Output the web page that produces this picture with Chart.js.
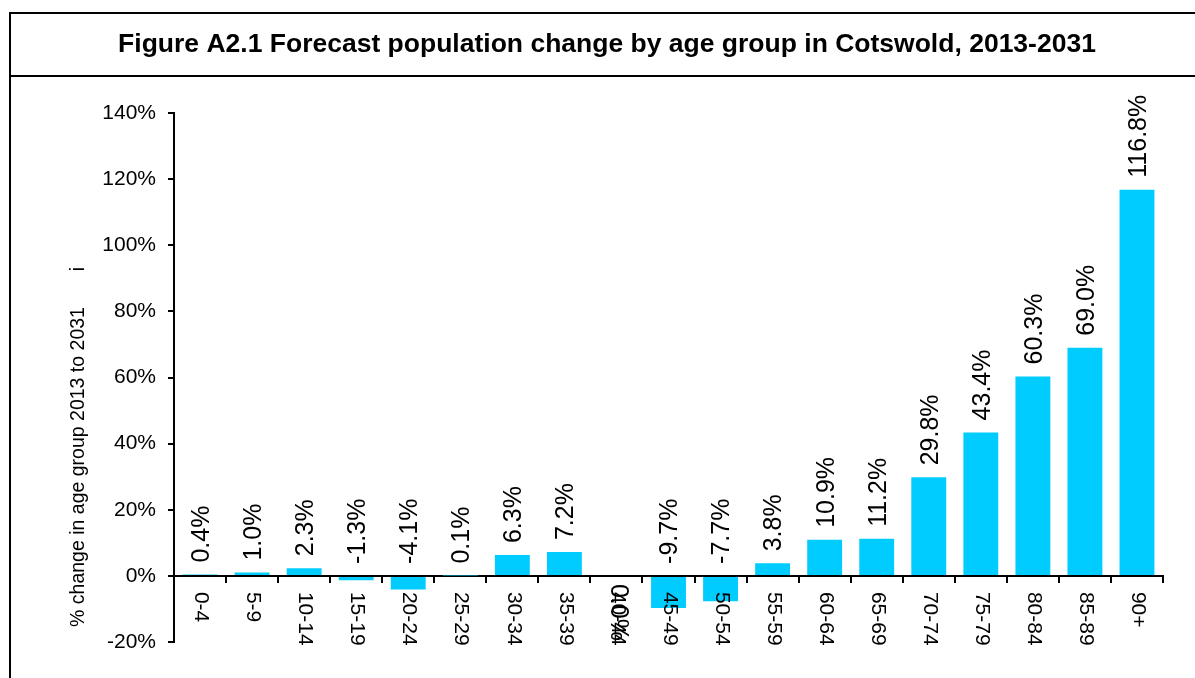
<!DOCTYPE html>
<html>
<head>
<meta charset="utf-8">
<script src="https://cdn.jsdelivr.net/npm/chart.js@4"></script>
<style>
  html, body { margin: 0; padding: 0; background: #fff; }
  #wrap { width: 1195px; height: 678px; position: relative; }
</style>
</head>
<body>
<div id="wrap"><canvas id="popChart"></canvas></div>
<script>
// Chart data
var ageGroups = ['0-4', '5-9', '10-14', '15-19', '20-24', '25-29', '30-34', '35-39', '40-44',
  '45-49', '50-54', '55-59', '60-64', '65-69', '70-74', '75-79', '80-84', '85-89', '90+'];
var pctChange = [0.4, 1.0, 2.3, -1.3, -4.1, 0.1, 6.3, 7.2, 0.0,
  -9.7, -7.7, 3.8, 10.9, 11.2, 29.8, 43.4, 60.3, 69.0, 116.8];
var yTicks = [-20, 0, 20, 40, 60, 80, 100, 120, 140];

var chartTitle = 'Figure A2.1 Forecast population change by age group in Cotswold, 2013-2031';
var yTitle = '% change in age group 2013 to 2031';

var FONT = 'Arial, "Liberation Sans", sans-serif';

// Frame, title, axis title, category labels and value labels
var decorations = {
  id: 'decorations',
  beforeDraw: function (chart) {
    var ctx = chart.ctx;
    ctx.save();
    ctx.strokeStyle = '#000';
    ctx.lineWidth = 2;
    ctx.beginPath();
    ctx.moveTo(10, 678);
    ctx.lineTo(10, 13);
    ctx.lineTo(1195, 13);
    ctx.moveTo(10, 76);
    ctx.lineTo(1195, 76);
    ctx.stroke();

    ctx.fillStyle = '#000';
    ctx.font = 'bold 26.5px ' + FONT;
    ctx.textAlign = 'center';
    ctx.textBaseline = 'middle';
    ctx.fillText(chartTitle, 607, 45);

    // rotated y axis title
    ctx.font = '19.5px ' + FONT;
    ctx.translate(79, 467);
    ctx.rotate(-Math.PI / 2);
    ctx.fillText(yTitle, 0, 0);
    ctx.fillText('i', 198, 0);
    ctx.restore();
  },
  afterDatasetsDraw: function (chart) {
    var ctx = chart.ctx;
    var x = chart.scales.x;
    var y = chart.scales.y;
    var zeroY = y.getPixelForValue(0);
    ctx.save();
    ctx.fillStyle = '#000';
    ctx.textBaseline = 'middle';
    ctx.textAlign = 'left';

    for (var i = 0; i < ageGroups.length; i++) {
      var cx = x.getPixelForValue(i);

      // category label, reads top to bottom
      ctx.save();
      ctx.font = '21px ' + FONT;
      ctx.translate(cx + 1, zeroY + 16);
      ctx.rotate(Math.PI / 2);
      ctx.fillText(ageGroups[i], 0, 0);
      ctx.restore();

      // value label
      var txt = pctChange[i].toFixed(1) + '%';
      ctx.save();
      ctx.font = '25px ' + FONT;
      if (pctChange[i] === 0) {
        ctx.translate(cx + 1, zeroY + 8);
        ctx.rotate(Math.PI / 2);
      } else {
        var top = Math.min(y.getPixelForValue(pctChange[i]), zeroY);
        ctx.translate(cx + 2, top - 12);
        ctx.rotate(-Math.PI / 2);
      }
      ctx.fillText(txt, 0, 0);
      ctx.restore();
    }
    ctx.restore();
  }
};

new Chart(document.getElementById('popChart'), {
  type: 'bar',
  data: {
    labels: ageGroups,
    datasets: [{
      data: pctChange,
      backgroundColor: '#00CCFF',
      borderWidth: 0,
      categoryPercentage: 1,
      barPercentage: 0.67
    }]
  },
  options: {
    responsive: true,
    maintainAspectRatio: false,
    animation: false,
    layout: { padding: { top: 113, bottom: 36, right: 32, left: 0 } },
    plugins: {
      legend: { display: false },
      tooltip: { enabled: false },
      title: { display: false }
    },
    scales: {
      x: {
        position: { y: 0 },
        offset: true,
        grid: { display: true, drawOnChartArea: false, drawTicks: true, tickLength: 6, color: '#000', lineWidth: 2, offset: true },
        border: { display: true, color: '#000', width: 2 },
        ticks: { display: false }
      },
      y: {
        min: -20,
        max: 140,
        afterBuildTicks: function (scale) {
          scale.ticks = yTicks.map(function (v) { return { value: v }; });
        },
        afterFit: function (scale) { scale.width = 174; },
        grid: { drawOnChartArea: false, drawTicks: true, tickLength: 6, color: '#000', lineWidth: 2 },
        border: { display: true, color: '#000', width: 2 },
        ticks: {
          padding: 12,
          color: '#000',
          font: { family: FONT, size: 21 },
          callback: function (v) { return v + '%'; }
        }
      }
    }
  },
  plugins: [decorations]
});
</script>
</body>
</html>
